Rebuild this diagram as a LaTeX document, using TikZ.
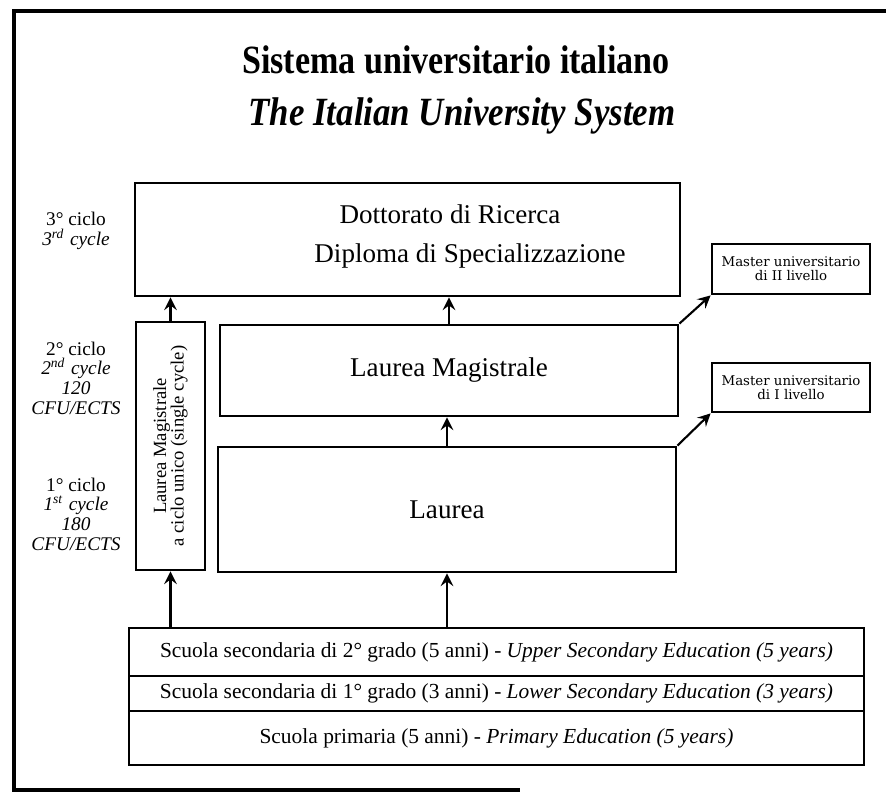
\documentclass[tikz,border=0pt]{standalone}
\usepackage{fontspec}
\setmainfont{Liberation Serif}
\newfontfamily\masterfont{DejaVu Serif}
\usetikzlibrary{arrows}
\tikzstyle{every picture}=[semithick,>=stealth]
\tikzstyle{box}=[draw,thick,rectangle,inner sep=0pt]
\tikzstyle{titletxt}=[font=\bfseries\fontsize{11.4}{13}\selectfont]
\tikzstyle{maintxt}=[font=\fontsize{7.7}{9}\selectfont]
\tikzstyle{schooltxt}=[font=\fontsize{6.1}{7}\selectfont]
\tikzstyle{cycletxt}=[align=center,font=\fontsize{5.5}{5.6}\selectfont]
\tikzstyle{mastertxt}=[align=center,font=\masterfont\fontsize{3.8}{4.0}\selectfont]

\begin{document}
\begin{tikzpicture}
            \useasboundingbox (0,0) rectangle (8.86,7.94);
            % frame of the page
            \draw[line width=1pt] (8.86,7.83) -- (0.14,7.83) -- (0.14,0.04) -- (5.2,0.04);

            \node[titletxt,xscale=0.85] (title) at (4.56,7.34) {Sistema universitario italiano};
            \node[titletxt,xscale=0.87] (subtitle) at (4.62,6.78) {\itshape The Italian University System};

            % cycles
            \node[cycletxt] (c3) at (0.76,5.63) {3° ciclo\\\textit{3\textsuperscript{rd} cycle}};
            \node[cycletxt] (c2) at (0.76,4.16) {2° ciclo\\\textit{2\textsuperscript{nd} cycle}\\\textit{120}\\\textit{CFU/ECTS}};
            \node[cycletxt] (c1) at (0.76,2.80) {1° ciclo\\\textit{1\textsuperscript{st} cycle}\\\textit{180}\\\textit{CFU/ECTS}};

            % degrees
            \node[box,minimum width=5.45cm,minimum height=1.13cm] (dott) at (4.075,5.545) {};
            \node[maintxt] (dotttxt) at (4.50,5.80) {Dottorato di Ricerca};
            \node[maintxt] (diptxt) at (4.70,5.38) {Diploma di Specializzazione};

            \node[box,rotate=90,minimum width=2.48cm,minimum height=0.69cm,align=center,
                font=\fontsize{5.3}{5.0}\selectfont] (unico) at (1.705,3.48)
                {Laurea Magistrale\\a ciclo unico (single cycle)};

            \node[box,maintxt,minimum width=4.58cm,minimum height=0.91cm] (lm) at (4.49,4.235) {Laurea Magistrale};
            \node[box,maintxt,minimum width=4.58cm,minimum height=1.25cm] (laurea) at (4.47,2.845) {Laurea};

            \node[box,mastertxt,minimum width=1.58cm,minimum height=0.50cm] (m2) at (7.91,5.25) {Master universitario\\di II livello};
            \node[box,mastertxt,minimum width=1.58cm,minimum height=0.49cm] (m1) at (7.91,4.065) {Master universitario\\di I livello};

            % schools
            \node[box,schooltxt,minimum width=7.35cm,minimum height=0.48cm] (sec2) at (4.965,1.42)
                {Scuola secondaria di 2° grado (5 anni) - \textit{Upper Secondary Education (5 years)}};
            \node[box,schooltxt,minimum width=7.35cm,minimum height=0.35cm] (sec1) at (4.965,1.005)
                {Scuola secondaria di 1° grado (3 anni) - \textit{Lower Secondary Education (3 years)}};
            \node[box,schooltxt,minimum width=7.35cm,minimum height=0.54cm] (prim) at (4.965,0.56)
                {Scuola primaria (5 anni) - \textit{Primary Education (5 years)}};

            % arrows
            \draw[->] (unico.east) -- (unico.east |- dott.south);
            \draw[->] (lm.north) -- (lm.north |- dott.south);
            \draw[->] (laurea.north) -- (laurea.north |- lm.south);
            \draw[->] (laurea.south |- sec2.north) -- (laurea.south);
            \draw[->] (unico.west |- sec2.north) -- (unico.west);
            \draw[->] (lm.north east) -- (m2.south west);
            \draw[->] (laurea.north east) -- (m1.south west);
        \end{tikzpicture}
\end{document}
